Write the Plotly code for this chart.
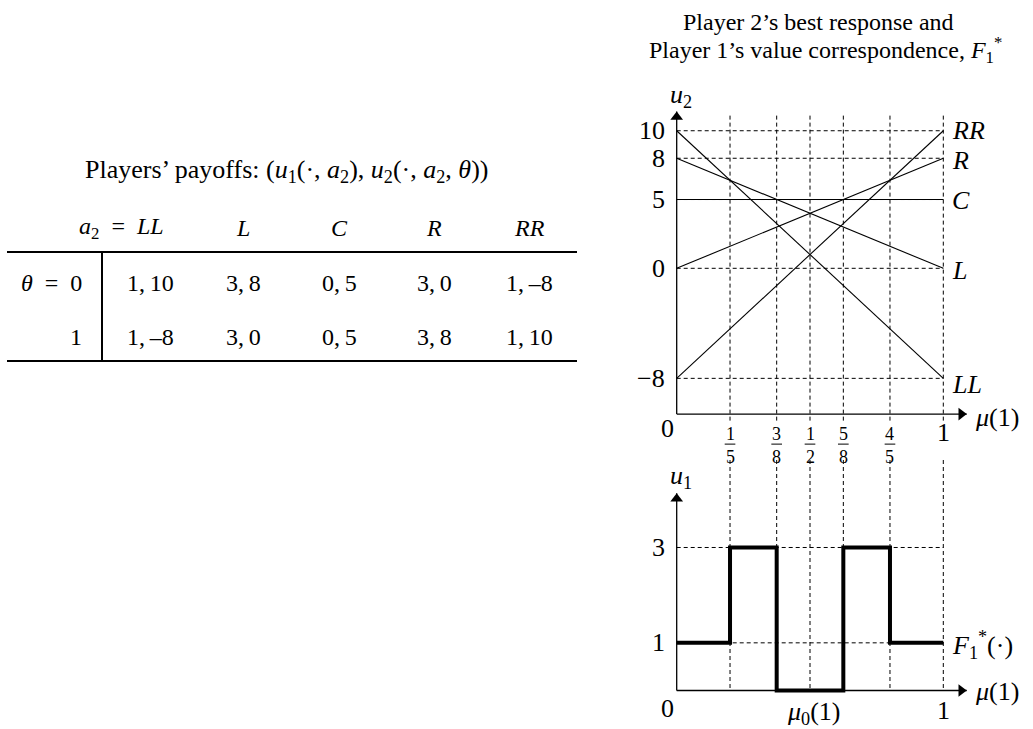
import plotly.graph_objects as go

# ---------------- data ----------------
actions = ["LL", "L", "C", "R", "RR"]
u1_payoff = [1, 3, 0, 3, 1]
u2_theta0 = [10, 8, 5, 0, -8]
u2_theta1 = [-8, 0, 5, 8, 10]
theta_rows = ["<i>θ</i>\u2002=\u20020", "1"]

mu_ticks = [1/5, 3/8, 1/2, 5/8, 4/5, 1.0]
mu_tick_num = ["1", "3", "1", "5", "4"]
mu_tick_den = ["5", "8", "2", "8", "5"]
u2_ticks = [10, 8, 5, 0, -8]
u2_tick_labels = ["10", "8", "5", "0", "−8"]
u1_ticks = [3, 1]
u1_tick_labels = ["3", "1"]

step_x = [0, 1/5, 3/8, 5/8, 4/5, 1.0]
step_y = [1, 3, 0, 3, 1, 1]
mu0 = 1/2

# ---------------- layout helpers ----------------
W, H = 1033, 729
def px(x):
    return x / W
def py(y):
    return 1 - y / H

FONT = "Liberation Serif"
DASH = "4px,3px"

# axis geometry (pixel-based)
X0, XU = 676.7, 266.6
x_range = [(645 - X0) / XU, (983 - X0) / XU]
T0, TU = 268.3, 13.756
top_range = [(T0 - 460) / TU, (T0 - 100) / TU]
B0, BU = 690.5, 47.67
bot_range = [(B0 - 720) / BU, (B0 - 460) / BU]

top_axis_y = -10.6
top_tip_y = 11.4
x_tip = 1.088
bot_tip_y = 4.14
label_gap_y = (T0 - 422) / TU   # dashed verticals pause under the axis for tick labels

fig = go.Figure()

def line(x, y, xa, ya, width=1, dash=None, shape="linear"):
    fig.add_trace(go.Scatter(x=x, y=y, mode="lines", line_shape=shape,
                             line=dict(color="black", width=width, dash=dash),
                             xaxis=xa, yaxis=ya, hoverinfo="skip", showlegend=False))

# ---------- dashed guides ----------
for t in u2_ticks:
    line([0, 1], [t, t], "x", "y", dash=DASH)
for m in mu_ticks:
    line([m, m], [11.1, label_gap_y], "x", "y", dash=DASH)
    line([m, m], [bot_range[1], 0], "x2", "y2", dash=DASH)
for t in u1_ticks:
    line([0, 1], [t, t], "x2", "y2", dash=DASH)

# ---------- top panel: payoff lines ----------
for a, v0, v1 in zip(actions, u2_theta0, u2_theta1):
    line([0, 1], [v0, v1], "x", "y", width=1.1)

# ---------- bottom panel: value correspondence ----------
line(step_x, step_y, "x2", "y2", width=4, shape="hv")

# ---------- axes with arrow heads ----------
AH = 11  # arrow head marker size (px)
def axis_arrows(xa, ya, base_y, tip_y):
    line([0, x_tip], [base_y, base_y], xa, ya, width=1.3)
    line([0, 0], [base_y, tip_y], xa, ya, width=1.3)
    yu = TU if ya == "y" else BU
    fig.add_trace(go.Scatter(
        x=[x_tip - (AH / 2) / XU, 0], y=[base_y, tip_y - (AH / 2) / yu],
        mode="markers", cliponaxis=False,
        marker=dict(symbol=["triangle-right", "triangle-up"], size=AH, color="black",
                    line=dict(width=0)),
        xaxis=xa, yaxis=ya, hoverinfo="skip", showlegend=False))

axis_arrows("x", "y", top_axis_y, top_tip_y)
axis_arrows("x2", "y2", 0, bot_tip_y)

ann = []
def lab(text, x, y, xr, yr, size=26, xanchor="center", yanchor="middle",
        xshift=0, yshift=0, bg=None):
    d = dict(text=text, x=x, y=y, xref=xr, yref=yr, showarrow=False,
             xanchor=xanchor, yanchor=yanchor, xshift=xshift, yshift=yshift,
             font=dict(family=FONT, size=size, color="black"))
    if bg:
        d["bgcolor"] = bg
        d["borderpad"] = 0
    ann.append(d)

# top tick labels
for t, s in zip(u2_ticks, u2_tick_labels):
    lab(s, 0, t, "x", "y", xanchor="right", xshift=-10)
lab("<i>u</i><sub>2</sub>", 0, top_tip_y, "x", "y", size=26, yshift=15, xshift=4)
lab("0", 0, top_axis_y, "x", "y", xshift=-9, yshift=-14)
lab("1", 1, top_axis_y, "x", "y", yshift=-18)
lab("<i>μ</i>(1)", x_tip, top_axis_y, "x", "y", xanchor="left", xshift=6, yshift=-3)
# right-side action labels
shifts = {"RR": 0, "R": -2, "C": -1, "L": -2, "LL": -6}
for a, v1 in zip(actions, u2_theta1):
    lab("<i>" + a + "</i>", 1, v1, "x", "y", xanchor="left", xshift=7, yshift=shifts[a])

# fraction tick labels
shapes = []
bar_y = top_axis_y - 30 / TU
for m, n, d in zip(mu_ticks[:-1], mu_tick_num, mu_tick_den):
    lab(n + "<br>" + d, m, top_axis_y, "x", "y", size=18, yshift=-31)
    shapes.append(dict(type="line", xref="x", yref="y", x0=m - 0.02, x1=m + 0.02,
                       y0=bar_y, y1=bar_y, line=dict(color="black", width=1)))

# bottom labels
for t, s in zip(u1_ticks, u1_tick_labels):
    lab(s, 0, t, "x2", "y2", xanchor="right", xshift=-10)
lab("<i>u</i><sub>1</sub>", 0, bot_tip_y, "x2", "y2", size=26, yshift=16, xshift=4)
lab("0", 0, 0, "x2", "y2", xshift=-9, yshift=-18)
lab("1", 1, 0, "x2", "y2", yshift=-20, bg="white")
lab("<i>μ</i><sub>0</sub>(1)", mu0, 0, "x2", "y2", xshift=3, yshift=-22, bg="white")
lab("<i>μ</i>(1)", x_tip, 0, "x2", "y2", xanchor="left", xshift=6, yshift=-1)
lab("<i>F</i><sub>1</sub><sup>*</sup>(·)", 1, 1, "x2", "y2", xanchor="left", xshift=7, yshift=-2)

# right-hand titles
lab("Player 2’s best response and", px(818), py(22), "paper", "paper", size=24)
lab("Player 1’s value correspondence, <i>F</i><sub>1</sub><sup>*</sup>",
    px(647), py(50), "paper", "paper", size=24, xanchor="left")

# ---------------- table ----------------
col_x = [150, 243, 339, 434, 529]
row_y = [283, 337]
header_y = 228
TS = 24
lab("Players’ payoffs: (<i>u</i><sub>1</sub>(·, <i>a</i><sub>2</sub>), "
    "<i>u</i><sub>2</sub>(·, <i>a</i><sub>2</sub>, <i>θ</i>))",
    px(286), py(171), "paper", "paper", size=26)
lab("<i>a</i><sub>2</sub>\u2002=\u2002<i>LL</i>", px(166), py(header_y), "paper", "paper",
    size=TS, xanchor="right")
for cx, a in zip(col_x[1:], actions[1:]):
    lab("<i>" + a + "</i>", px(cx), py(header_y), "paper", "paper", size=TS)
for ry, rl, vals in zip(row_y, theta_rows, [u2_theta0, u2_theta1]):
    lab(rl, px(84), py(ry), "paper", "paper", size=TS, xanchor="right")
    for cx, p1, p2 in zip(col_x, u1_payoff, vals):
        s2 = ("–" + str(-p2)) if p2 < 0 else str(p2)
        lab(f"{p1},\u2009{s2}", px(cx), py(ry), "paper", "paper", size=TS)

shapes += [
    dict(type="line", xref="paper", yref="paper", x0=px(7), x1=px(577),
         y0=py(252), y1=py(252), line=dict(color="black", width=2)),
    dict(type="line", xref="paper", yref="paper", x0=px(7), x1=px(577),
         y0=py(361), y1=py(361), line=dict(color="black", width=2)),
    dict(type="line", xref="paper", yref="paper", x0=px(102), x1=px(102),
         y0=py(252), y1=py(361), line=dict(color="black", width=2)),
]

axis_common = dict(visible=False, showgrid=False, zeroline=False, fixedrange=True)
fig.update_layout(
    width=W, height=H,
    margin=dict(l=0, r=0, t=0, b=0),
    paper_bgcolor="white", plot_bgcolor="white",
    showlegend=False,
    xaxis=dict(domain=[px(645), px(983)], range=x_range, anchor="y", **axis_common),
    yaxis=dict(domain=[py(460), py(100)], range=top_range, anchor="x", **axis_common),
    xaxis2=dict(domain=[px(645), px(983)], range=x_range, anchor="y2", **axis_common),
    yaxis2=dict(domain=[py(720), py(460)], range=bot_range, anchor="x2", **axis_common),
    annotations=ann,
    shapes=shapes,
)

fig.write_html("out.html", config={"displayModeBar": False},
               post_script="document.body.style.margin='0px';")
